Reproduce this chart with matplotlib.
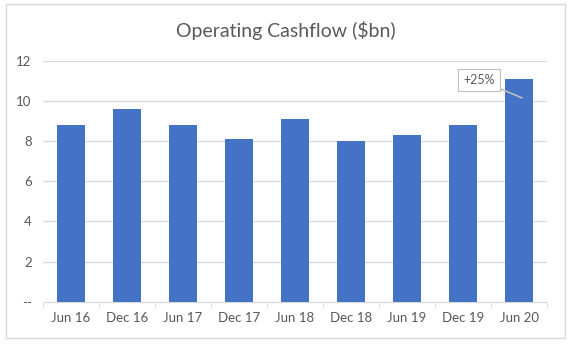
import matplotlib
matplotlib.use("Agg")
import matplotlib.pyplot as plt
from matplotlib.patches import Rectangle
import numpy as np

# data
periods = ["Jun 16", "Dec 16", "Jun 17", "Dec 17", "Jun 18",
           "Dec 18", "Jun 19", "Dec 19", "Jun 20"]
cashflow = [8.8, 9.6, 8.8, 8.1, 9.1, 8.0, 8.3, 8.8, 11.1]
y_ticks = [0, 2, 4, 6, 8, 10, 12]
y_labels = ["--", "2", "4", "6", "8", "10", "12"]
note = "+25%"

plt.rcParams["font.family"] = ["Lato", "DejaVu Sans"]
grey = "#595959"

fig = plt.figure(figsize=(5.7, 3.45), dpi=100)
ax = fig.add_axes([0.075, 0.125, 0.885, 0.699])

x = np.arange(len(periods))
ax.bar(x, cashflow, width=0.5, color="#4472c4", zorder=3)

ax.set_xlim(-0.5, len(periods) - 0.5)
ax.set_ylim(0, 12)
ax.set_yticks(y_ticks)
ax.set_yticklabels(y_labels)
ax.set_xticks(x)
ax.set_xticklabels(periods)
ax.tick_params(axis="y", length=0, colors=grey, labelsize=9.5, pad=8)
ax.tick_params(axis="x", length=0, colors=grey, labelsize=9.5, pad=7)
# little separators between categories on the x axis
ax.set_xticks(np.arange(-0.5, len(periods), 1), minor=True)
ax.tick_params(axis="x", which="minor", length=4, color="#d9d9d9")

ax.grid(axis="y", color="#d9d9d9", linewidth=0.9, zorder=0)
for s in ["top", "right", "left"]:
    ax.spines[s].set_visible(False)
ax.spines["bottom"].set_color("#d9d9d9")

fig.text(0.502, 0.913, "Operating Cashflow ($bn)", ha="center", va="center",
         fontsize=14, color=grey)

# callout on the last bar
last = len(periods) - 1
ax.annotate(note, xy=(last + 0.05, cashflow[-1] - 0.95),
            xytext=(last - 0.72, cashflow[-1] - 0.05),
            ha="center", va="center", fontsize=9, color=grey,
            bbox=dict(boxstyle="square,pad=0.4", fc="white", ec="#bfbfbf", lw=0.8),
            arrowprops=dict(arrowstyle="-", color="#bfbfbf", lw=1.2,
                            shrinkA=0, shrinkB=0),
            zorder=5)

# outer chart frame
fig.patches.append(Rectangle((0.011, 0.02), 0.98, 0.968, transform=fig.transFigure,
                             fill=False, ec="#d9d9d9", lw=1))

fig.savefig("out.png", dpi=100)
